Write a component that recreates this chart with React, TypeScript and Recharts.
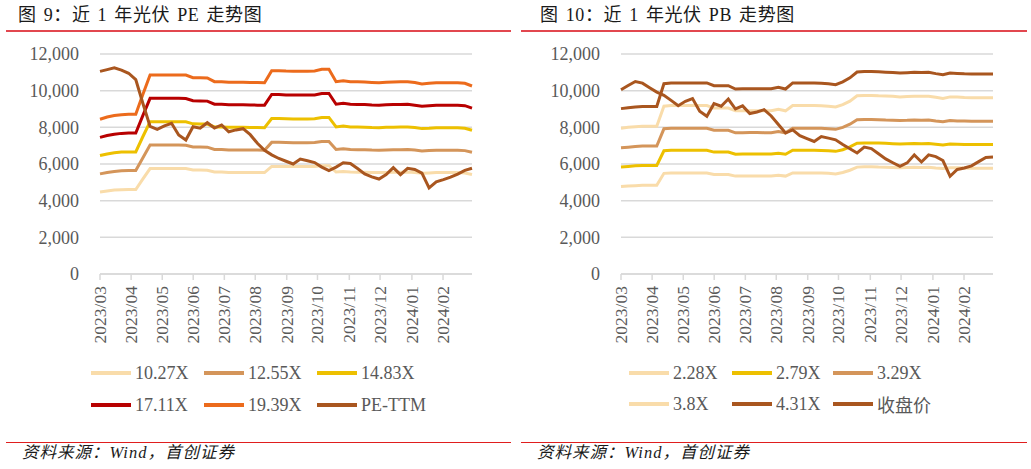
import { LineChart, Line, XAxis, YAxis, CartesianGrid } from 'recharts';

// month labels on the x axis and where they fall on the weekly index
const monthLabels = ['2023/03', '2023/04', '2023/05', '2023/06', '2023/07', '2023/08', '2023/09', '2023/10', '2023/11', '2023/12', '2024/01', '2024/02'];
const monthTicks = [0, 4.35, 8.7, 13.03, 17.38, 21.7, 26.1, 30.4, 34.85, 39.15, 43.6, 47.95];
const yTicks = [0, 2000, 4000, 6000, 8000, 10000, 12000];

// PE bands (weekly)
const pe1027 = [4470, 4530, 4580, 4600, 4610, 4610, 5190, 5750, 5750, 5750, 5750, 5750, 5750, 5670, 5670, 5660, 5560, 5560, 5540, 5540, 5540, 5530, 5530, 5530, 5870, 5870, 5860, 5860, 5860, 5860, 5860, 5910, 5910, 5560, 5590, 5560, 5550, 5550, 5530, 5530, 5540, 5550, 5550, 5560, 5530, 5490, 5510, 5530, 5530, 5530, 5530, 5510, 5430];
const pe1255 = [5460, 5540, 5590, 5630, 5640, 5640, 6340, 7030, 7030, 7030, 7030, 7030, 7020, 6930, 6930, 6920, 6790, 6790, 6770, 6770, 6770, 6760, 6760, 6750, 7180, 7180, 7170, 7160, 7160, 7160, 7170, 7230, 7230, 6790, 6830, 6790, 6780, 6780, 6760, 6750, 6770, 6780, 6780, 6790, 6760, 6710, 6730, 6750, 6750, 6750, 6750, 6730, 6640];
const pe1483 = [6460, 6550, 6610, 6650, 6660, 6660, 7500, 8300, 8300, 8300, 8300, 8300, 8300, 8190, 8180, 8180, 8020, 8020, 8000, 8000, 8000, 7990, 7990, 7980, 8480, 8480, 8470, 8460, 8460, 8460, 8470, 8540, 8540, 8020, 8070, 8020, 8020, 8010, 7990, 7980, 8000, 8010, 8020, 8020, 7990, 7930, 7950, 7980, 7980, 7980, 7980, 7950, 7840];
const pe1711 = [7450, 7550, 7620, 7670, 7690, 7690, 8650, 9580, 9580, 9580, 9580, 9580, 9570, 9450, 9440, 9430, 9260, 9260, 9230, 9230, 9230, 9220, 9210, 9210, 9790, 9790, 9770, 9760, 9760, 9760, 9770, 9850, 9850, 9260, 9310, 9260, 9250, 9240, 9220, 9210, 9230, 9240, 9250, 9260, 9210, 9150, 9180, 9210, 9210, 9210, 9210, 9180, 9050];
const pe1939 = [8440, 8560, 8640, 8690, 8710, 8710, 9800, 10855, 10855, 10855, 10855, 10855, 10850, 10710, 10700, 10690, 10490, 10490, 10460, 10460, 10460, 10450, 10440, 10435, 11090, 11090, 11070, 11060, 11060, 11060, 11070, 11165, 11165, 10490, 10545, 10490, 10480, 10470, 10450, 10435, 10460, 10470, 10480, 10490, 10440, 10365, 10400, 10435, 10435, 10435, 10435, 10400, 10255];
const peTTM = [11050, 11150, 11250, 11120, 10950, 10600, 9300, 8050, 7890, 8080, 8220, 7580, 7310, 8035, 7950, 8250, 7960, 8130, 7760, 7860, 7925, 7600, 7130, 6750, 6500, 6300, 6150, 6000, 6270, 6180, 6080, 5830, 5640, 5830, 6070, 6030, 5750, 5460, 5300, 5180, 5420, 5800, 5420, 5765, 5700, 5500, 4700, 5030, 5150, 5280, 5450, 5650, 5765];

// PB bands (weekly)
const pb228 = [4770, 4800, 4820, 4840, 4840, 4840, 5490, 5510, 5510, 5510, 5510, 5510, 5510, 5430, 5430, 5430, 5340, 5340, 5350, 5350, 5340, 5340, 5390, 5340, 5510, 5510, 5510, 5510, 5510, 5490, 5460, 5540, 5660, 5830, 5850, 5850, 5830, 5820, 5810, 5800, 5810, 5820, 5810, 5820, 5780, 5750, 5800, 5790, 5780, 5770, 5770, 5770, 5770];
const pb279 = [5840, 5870, 5900, 5920, 5920, 5920, 6720, 6750, 6750, 6750, 6750, 6750, 6750, 6650, 6650, 6650, 6530, 6540, 6540, 6540, 6540, 6540, 6590, 6530, 6750, 6750, 6750, 6750, 6740, 6720, 6690, 6780, 6930, 7130, 7150, 7150, 7140, 7130, 7110, 7090, 7110, 7120, 7110, 7120, 7080, 7040, 7090, 7080, 7070, 7060, 7060, 7060, 7060];
const pb329 = [6890, 6920, 6950, 6980, 6980, 6980, 7920, 7950, 7950, 7950, 7950, 7950, 7950, 7840, 7840, 7840, 7700, 7710, 7720, 7720, 7710, 7710, 7770, 7700, 7950, 7950, 7950, 7950, 7950, 7920, 7890, 8000, 8170, 8410, 8430, 8430, 8420, 8400, 8390, 8370, 8380, 8400, 8390, 8400, 8340, 8300, 8370, 8350, 8340, 8330, 8330, 8330, 8330];
const pb380 = [7950, 8000, 8030, 8060, 8060, 8060, 9150, 9190, 9190, 9190, 9190, 9190, 9190, 9050, 9050, 9050, 8900, 8900, 8910, 8910, 8900, 8900, 8980, 8900, 9190, 9190, 9190, 9190, 9180, 9150, 9110, 9240, 9430, 9720, 9740, 9740, 9720, 9710, 9690, 9660, 9680, 9700, 9690, 9700, 9640, 9580, 9660, 9650, 9630, 9620, 9620, 9620, 9620];
const pb431 = [9020, 9070, 9110, 9140, 9140, 9140, 10380, 10420, 10420, 10420, 10420, 10420, 10420, 10270, 10270, 10270, 10090, 10100, 10110, 10110, 10100, 10100, 10180, 10090, 10420, 10420, 10420, 10420, 10410, 10380, 10330, 10480, 10700, 11020, 11050, 11050, 11030, 11010, 10990, 10960, 10980, 11000, 10990, 11000, 10930, 10870, 10960, 10940, 10920, 10910, 10910, 10910, 10910];
const pbClose = [10050, 10280, 10500, 10410, 10160, 9920, 9750, 9470, 9180, 9420, 9570, 8880, 8600, 9290, 9150, 9545, 9000, 9170, 8750, 8840, 8960, 8620, 8150, 7690, 7860, 7550, 7390, 7230, 7500, 7410, 7320, 7060, 6830, 6600, 6920, 6840, 6560, 6280, 6070, 5870, 6060, 6500, 6110, 6500, 6400, 6190, 5330, 5700, 5780, 5900, 6130, 6360, 6380];

const PEACH = '#F9DCAA';
const TAN = '#D4955A';
const GOLD = '#EDC000';
const RED = '#B80000';
const ORANGE = '#EC6B1C';
const BROWN = '#A9561F';

const SERIF = '"Liberation Serif", "Noto Sans CJK SC", serif';
const GREY = '#595959';

const peSeries = [
  { key: 'a', name: '10.27X', values: pe1027, color: PEACH },
  { key: 'b', name: '12.55X', values: pe1255, color: TAN },
  { key: 'c', name: '14.83X', values: pe1483, color: GOLD },
  { key: 'd', name: '17.11X', values: pe1711, color: RED },
  { key: 'e', name: '19.39X', values: pe1939, color: ORANGE },
  { key: 'f', name: 'PE-TTM', values: peTTM, color: BROWN },
];

const pbSeries = [
  { key: 'a', name: '2.28X', values: pb228, color: PEACH },
  { key: 'b', name: '2.79X', values: pb279, color: GOLD },
  { key: 'c', name: '3.29X', values: pb329, color: TAN },
  { key: 'd', name: '3.8X', values: pb380, color: PEACH },
  { key: 'e', name: '4.31X', values: pb431, color: BROWN },
  { key: 'f', name: '收盘价', values: pbClose, color: BROWN },
];

type Series = { key: string; name: string; values: number[]; color: string };

function buildRows(series: Series[]) {
  return series[0].values.map((_, i) => {
    const row: Record<string, number> = { i };
    series.forEach((s) => {
      row[s.key] = s.values[i];
    });
    return row;
  });
}

const MonthTick = (props: any) => {
  const { x, y, payload } = props;
  const label = monthLabels[monthTicks.indexOf(payload.value)] ?? '';
  return (
    <text
      x={x}
      y={y}
      transform={`rotate(-90, ${x}, ${y})`}
      textAnchor="end"
      dominantBaseline="central"
      fill={GREY}
      fontSize={17.5}
      fontFamily={SERIF}
    >
      {label}
    </text>
  );
};

interface PanelProps {
  left: number;
  width: number;
  title: string;
  titleX: number;
  axisWidth: number;
  marginRight: number;
  series: Series[];
  legendX: number[];
  legendRows: number[];
}

function Panel({ left, width, title, titleX, axisWidth, marginRight, series, legendX, legendRows }: PanelProps) {
  const rows = buildRows(series);
  return (
    <div style={{ position: 'absolute', left, top: 0, width, height: 469 }}>
      <div
        style={{
          position: 'absolute',
          left: titleX,
          top: 4,
          fontSize: 18,
          letterSpacing: 0.6,
          wordSpacing: 2,
          fontFamily: SERIF,
          color: '#1a1a1a',
          whiteSpace: 'pre',
          lineHeight: '22px',
        }}
      >
        {title}
      </div>
      <div style={{ position: 'absolute', left: 6, right: 4, top: 30, height: 2, background: '#E2474F' }} />

      <div style={{ position: 'absolute', left: 0, top: 0 }}>
        <LineChart width={width} height={350} data={rows} margin={{ top: 54, right: marginRight, bottom: 0, left: 0 }}>
          <CartesianGrid vertical={false} stroke="#D9D9D9" strokeWidth={1.5} />
          <XAxis
            dataKey="i"
            type="number"
            domain={[0, 52]}
            ticks={monthTicks}
            interval={0}
            height={76}
            tick={<MonthTick />}
            tickSize={6}
            tickMargin={6}
            stroke="#D9D9D9"
            strokeWidth={1.5}
          />
          <YAxis
            width={axisWidth}
            domain={[0, 12000]}
            ticks={yTicks}
            tickFormatter={(v: number) => v.toLocaleString('en-US')}
            axisLine={false}
            tickLine={false}
            tickSize={0}
            tickMargin={21}
            tick={{ fill: GREY, fontSize: 18, fontFamily: SERIF }}
          />
          {series.map((s) => (
            <Line
              key={s.key}
              dataKey={s.key}
              name={s.name}
              stroke={s.color}
              strokeWidth={3}
              dot={false}
              type="linear"
              isAnimationActive={false}
            />
          ))}
        </LineChart>
      </div>

      {series.map((s, idx) => (
        <div
          key={s.key}
          style={{
            position: 'absolute',
            left: legendX[idx % 3],
            top: legendRows[Math.floor(idx / 3)] - 12,
            height: 24,
            display: 'flex',
            alignItems: 'center',
            whiteSpace: 'nowrap',
          }}
        >
          <span style={{ display: 'inline-block', width: 40, height: 3.5, background: s.color }} />
          <span style={{ marginLeft: 4, fontSize: 18, fontFamily: SERIF, color: GREY }}>{s.name}</span>
        </div>
      ))}

      <div style={{ position: 'absolute', left: 6, right: 4, top: 441.5, height: 1.5, background: '#E01E1E' }} />
      <div
        style={{
          position: 'absolute',
          left: 22,
          top: 442,
          fontSize: 16.5,
          letterSpacing: 1,
          fontStyle: 'italic',
          fontFamily: SERIF,
          color: '#1a1a1a',
          whiteSpace: 'nowrap',
          lineHeight: '22px',
        }}
      >
        资料来源：Wind，首创证券
      </div>
    </div>
  );
}

export default function App() {
  return (
    <div style={{ position: 'absolute', left: 0, top: 0, width: 1031, height: 469, background: '#fff', overflow: 'hidden' }}>
      <Panel
        left={0}
        width={515}
        title="图 9：近 1 年光伏 PE 走势图"
        titleX={18}
        axisWidth={100}
        marginRight={43}
        series={peSeries}
        legendX={[91, 204, 317]}
        legendRows={[373, 405]}
      />
      <Panel
        left={515}
        width={516}
        title="图 10：近 1 年光伏 PB 走势图"
        titleX={25}
        axisWidth={106}
        marginRight={38}
        series={pbSeries}
        legendX={[114, 217, 318]}
        legendRows={[373, 404]}
      />
    </div>
  );
}
